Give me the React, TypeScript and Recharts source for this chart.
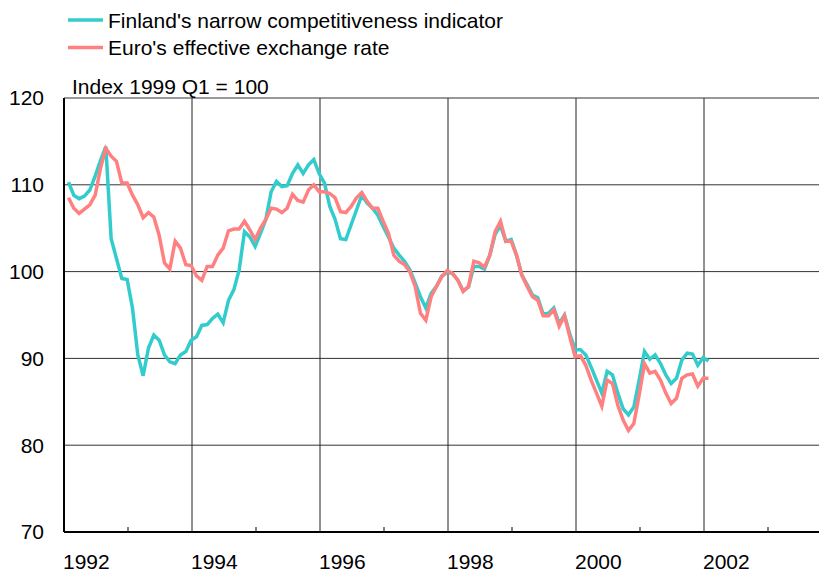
import { CartesianGrid, Legend, Line, LineChart, ReferenceLine, XAxis, YAxis } from 'recharts';

// monthly index values, Jan 1992 .. Jan 2002
const finland = [
    // 1992
    110.3, 108.8, 108.4, 108.7, 109.4, 111.0, 112.8, 114.4, 103.8, 101.5, 99.2, 99.1,
    // 1993
    95.8, 90.4, 88.0, 91.2, 92.7, 92.1, 90.4, 89.6, 89.4, 90.4, 90.8, 92.1,
    // 1994
    92.5, 93.8, 93.9, 94.6, 95.1, 94.1, 96.7, 97.9, 100.2, 104.6, 104.0, 102.9,
    // 1995
    104.4, 106.0, 109.2, 110.4, 109.8, 109.9, 111.3, 112.3, 111.3, 112.3, 112.9, 111.3,
    // 1996
    110.2, 107.5, 106.0, 103.8, 103.7, 105.4, 107.1, 108.8, 107.9, 107.3, 106.5, 105.2,
    // 1997
    104.0, 102.7, 101.9, 101.2, 100.2, 98.7, 97.1, 95.8, 97.5, 98.3, 99.5, 99.9,
    // 1998
    99.8, 99.0, 97.8, 98.2, 100.6, 100.6, 100.3, 101.9, 104.3, 105.3, 103.5, 103.7,
    // 1999
    101.9, 99.6, 98.5, 97.3, 97.0, 95.1, 95.2, 95.8, 94.0, 95.0, 92.8, 91.0,
    // 2000
    91.0, 90.4, 89.0, 87.5, 86.0, 88.5, 88.1, 86.0, 84.2, 83.5, 84.4, 87.5,
    // 2001
    90.8, 89.9, 90.4, 89.4, 88.1, 87.1, 87.7, 89.8, 90.6, 90.5, 89.2, 90.1,
    // 2002
    89.7,
];

const euro = [
    // 1992
    108.5, 107.3, 106.7, 107.2, 107.7, 108.8, 111.9, 114.2, 113.3, 112.7, 110.2, 110.2,
    // 1993
    108.8, 107.7, 106.2, 106.8, 106.3, 104.2, 101.0, 100.3, 103.5, 102.7, 100.8, 100.7,
    // 1994
    99.5, 99.0, 100.6, 100.6, 101.9, 102.7, 104.7, 104.9, 104.9, 105.8, 104.8, 103.7,
    // 1995
    105.0, 106.0, 107.3, 107.2, 106.8, 107.3, 108.9, 108.2, 108.0, 109.4, 110.0, 109.2,
    // 1996
    109.2, 109.0, 108.5, 106.9, 106.8, 107.5, 108.5, 109.1, 108.1, 107.3, 107.3, 105.8,
    // 1997
    104.4, 101.9, 101.2, 100.8, 100.0, 98.3, 95.2, 94.4, 97.1, 98.3, 99.4, 100.1,
    // 1998
    99.8, 99.0, 97.7, 98.3, 101.2, 101.0, 100.5, 101.9, 104.6, 105.8, 103.5, 103.5,
    // 1999
    101.9, 99.6, 98.3, 97.1, 96.7, 94.9, 94.9, 95.6, 93.7, 94.9, 92.5, 90.2,
    // 2000
    90.3, 89.2, 87.5, 86.0, 84.5, 87.5, 87.1, 84.6, 82.9, 81.7, 82.5, 85.8,
    // 2001
    89.4, 88.3, 88.5, 87.5, 86.0, 84.8, 85.4, 87.7, 88.1, 88.2, 86.8, 87.7,
    // 2002
    87.7,
];

const yearTicks = [1992, 1993, 1994, 1995, 1996, 1997, 1998, 1999, 2000, 2001, 2002, 2003];
const yTicks = [70, 80, 90, 100, 110, 120];
const seriesNames = ["Finland's narrow competitiveness indicator", "Euro's effective exchange rate"];
const title = 'Index 1999 Q1 = 100';

const START_YEAR = 1992.07;
const TEAL = '#33CCCC';
const SALMON = '#FF8080';
const FONT = '"Liberation Sans", Arial, sans-serif';
const FONT_SIZE = 21;
const PLOT_BOTTOM = 532;

const data = finland.map((v, i) => ({
    t: START_YEAR + i / 12,
    finland: v,
    euro: euro[i],
}));

const XTick = (props: any) => {
    const { x, payload } = props;
    const year = payload.value;
    if (year % 2 === 1) {
        return <line x1={x} x2={x} y1={PLOT_BOTTOM} y2={PLOT_BOTTOM - 5} stroke="#000" strokeWidth={1} />;
    }
    return (
        <text x={x - 1} y={569} textAnchor="start" fontSize={FONT_SIZE} fontFamily={FONT} fill="#000">
            {year}
        </text>
    );
};

const YTick = (props: any) => {
    const { y, payload } = props;
    return (
        <text x={44} y={y} dy="0.35em" textAnchor="end" fontSize={FONT_SIZE} fontFamily={FONT} fill="#000">
            {payload.value}
        </text>
    );
};

const renderLegend = () => (
    <svg width={819} height={100} style={{ display: 'block' }}>
        <line x1={68} x2={103} y1={20} y2={20} stroke={TEAL} strokeWidth={3.5} />
        <text x={108} y={28} fontSize={FONT_SIZE} fontFamily={FONT} fill="#000">{seriesNames[0]}</text>
        <line x1={68} x2={103} y1={47.5} y2={47.5} stroke={SALMON} strokeWidth={3.5} />
        <text x={108} y={55} fontSize={FONT_SIZE} fontFamily={FONT} fill="#000">{seriesNames[1]}</text>
        <text x={72} y={94} fontSize={FONT_SIZE} fontFamily={FONT} fill="#000">{title}</text>
    </svg>
);

export default function App() {
    return (
        <div style={{ position: 'absolute', left: 0, top: 0, width: 819, height: 574, background: '#fff' }}>
            <LineChart width={819} height={574} data={data} margin={{ top: 98, right: 0, bottom: 12, left: 0 }}>
                <CartesianGrid vertical={false} stroke="#333" strokeWidth={1} />
                {yearTicks.filter((y) => y % 2 === 0 && y > 1992).map((y) => (
                    <ReferenceLine key={y} x={y} stroke="#222" strokeWidth={1} />
                ))}
                <XAxis
                    dataKey="t"
                    type="number"
                    height={30}
                    domain={[1992, 1992 + 755 / 64]}
                    ticks={yearTicks}
                    interval={0}
                    tickLine={false}
                    tick={XTick}
                    axisLine={{ stroke: '#000', strokeWidth: 2 }}
                    allowDataOverflow
                />
                <YAxis
                    width={64}
                    domain={[70, 120]}
                    ticks={yTicks}
                    interval={0}
                    tickLine={false}
                    tick={YTick}
                    axisLine={{ stroke: '#000', strokeWidth: 2 }}
                />
                <Legend
                    content={renderLegend}
                    layout="horizontal"
                    verticalAlign="middle"
                    wrapperStyle={{ top: 0, left: 0, width: 819, height: 100 }}
                />
                <Line
                    type="linear"
                    dataKey="finland"
                    name={seriesNames[0]}
                    stroke={TEAL}
                    strokeWidth={3.5}
                    dot={false}
                    isAnimationActive={false}
                />
                <Line
                    type="linear"
                    dataKey="euro"
                    name={seriesNames[1]}
                    stroke={SALMON}
                    strokeWidth={3.5}
                    dot={false}
                    isAnimationActive={false}
                />
            </LineChart>
        </div>
    );
}
